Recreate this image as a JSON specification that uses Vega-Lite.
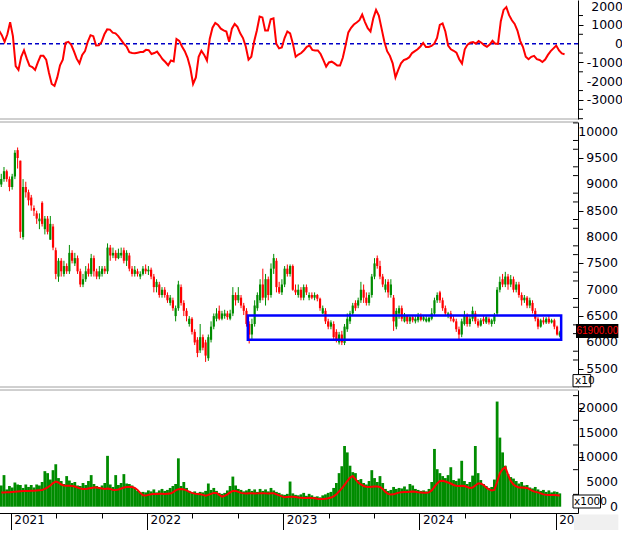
{
"$schema": "https://vega.github.io/schema/vega-lite/v6.json",
"padding": {"left": -8, "top": 0, "right": -1, "bottom": -4},
"background": "white",
"spacing": 3,
"bounds": "flush",
"config": {
  "view": {"stroke": null},
  "axis": {"labelFont": "DejaVu Sans", "labelFontSize": 12.5, "labelColor": "#000010", "domainColor": "#000000", "tickColor": "#000000", "grid": false, "title": null, "labelOverlap": false}
},
"datasets": {
"d": [
{"t":2020.93,"o":9000,"h":9200,"l":8950,"c":9100,"v":4300,"m":2900,"s":450},
{"t":2020.95,"o":9100,"h":9330,"l":9050,"c":9250,"v":6400,"m":2900,"s":700},
{"t":2020.97,"o":9250,"h":9280,"l":9050,"c":9100,"v":3500,"m":2950,"s":450},
{"t":2020.99,"o":9100,"h":9150,"l":8870,"c":8950,"v":4200,"m":2950,"s":100},
{"t":2021.01,"o":8950,"h":9200,"l":8900,"c":9150,"v":3900,"m":3000,"s":500},
{"t":2021.03,"o":9150,"h":9650,"l":9100,"c":9600,"v":4900,"m":3050,"s":1150},
{"t":2021.05,"o":9650,"h":9700,"l":9300,"c":9500,"v":4500,"m":3100,"s":400},
{"t":2021.07,"o":9450,"h":9450,"l":7980,"c":8100,"v":4400,"m":3150,"s":-1200},
{"t":2021.09,"o":8000,"h":9100,"l":7950,"c":8950,"v":3800,"m":3200,"s":-1400},
{"t":2021.11,"o":8950,"h":9050,"l":8750,"c":8850,"v":4500,"m":3200,"s":-700},
{"t":2021.13,"o":8850,"h":8900,"l":8600,"c":8700,"v":4000,"m":3200,"s":-350},
{"t":2021.15,"o":8750,"h":8800,"l":8500,"c":8600,"v":4400,"m":3250,"s":-800},
{"t":2021.17,"o":8550,"h":8600,"l":8400,"c":8500,"v":3900,"m":3250,"s":-1180},
{"t":2021.19,"o":8450,"h":8500,"l":8250,"c":8350,"v":4500,"m":3300,"s":-1250},
{"t":2021.21,"o":8300,"h":8450,"l":8150,"c":8350,"v":4300,"m":3350,"s":-1400},
{"t":2021.23,"o":8650,"h":8680,"l":8200,"c":8250,"v":5000,"m":3400,"s":-1000},
{"t":2021.25,"o":8150,"h":8400,"l":8050,"c":8350,"v":7200,"m":3600,"s":-650},
{"t":2021.27,"o":8350,"h":8400,"l":8050,"c":8100,"v":6800,"m":3900,"s":-650},
{"t":2021.29,"o":7950,"h":8400,"l":7950,"c":8250,"v":5500,"m":4300,"s":-850},
{"t":2021.31,"o":8200,"h":8250,"l":7750,"c":7800,"v":7400,"m":4800,"s":-1550},
{"t":2021.33,"o":7750,"h":7800,"l":7200,"c":7300,"v":8600,"m":5100,"s":-2150},
{"t":2021.35,"o":7250,"h":7600,"l":7150,"c":7550,"v":5800,"m":4900,"s":-2250},
{"t":2021.37,"o":7550,"h":7600,"l":7250,"c":7350,"v":5200,"m":4500,"s":-1800},
{"t":2021.39,"o":7300,"h":7550,"l":7250,"c":7450,"v":4600,"m":4300,"s":-1150},
{"t":2021.41,"o":7450,"h":7500,"l":7300,"c":7350,"v":6200,"m":4250,"s":-850},
{"t":2021.43,"o":7350,"h":7850,"l":7300,"c":7700,"v":5300,"m":4250,"s":50},
{"t":2021.45,"o":7700,"h":7750,"l":7500,"c":7550,"v":4800,"m":4200,"s":100},
{"t":2021.47,"o":7500,"h":7700,"l":7450,"c":7600,"v":5000,"m":4100,"s":-50},
{"t":2021.49,"o":7600,"h":7650,"l":7300,"c":7350,"v":4300,"m":3900,"s":-400},
{"t":2021.51,"o":7350,"h":7400,"l":7050,"c":7100,"v":4200,"m":3700,"s":-800},
{"t":2021.53,"o":7100,"h":7300,"l":7050,"c":7200,"v":4800,"m":3600,"s":-1050},
{"t":2021.55,"o":7200,"h":7450,"l":7150,"c":7350,"v":4400,"m":3600,"s":-600},
{"t":2021.57,"o":7400,"h":7500,"l":7250,"c":7300,"v":5200,"m":3700,"s":-400},
{"t":2021.59,"o":7300,"h":7680,"l":7250,"c":7600,"v":6400,"m":3800,"s":100},
{"t":2021.61,"o":7600,"h":7650,"l":7250,"c":7350,"v":4600,"m":3900,"s":450},
{"t":2021.63,"o":7350,"h":7400,"l":7200,"c":7250,"v":4200,"m":3900,"s":400},
{"t":2021.65,"o":7250,"h":7450,"l":7200,"c":7350,"v":3800,"m":3800,"s":-100},
{"t":2021.67,"o":7300,"h":7450,"l":7250,"c":7400,"v":4300,"m":3700,"s":-90},
{"t":2021.69,"o":7400,"h":7450,"l":7300,"c":7350,"v":4800,"m":3600,"s":100},
{"t":2021.71,"o":7350,"h":7880,"l":7300,"c":7800,"v":10300,"m":3700,"s":500},
{"t":2021.73,"o":7800,"h":7850,"l":7550,"c":7650,"v":4500,"m":3600,"s":760},
{"t":2021.75,"o":7650,"h":7800,"l":7600,"c":7700,"v":4000,"m":3400,"s":750},
{"t":2021.77,"o":7700,"h":7750,"l":7550,"c":7600,"v":6400,"m":3400,"s":590},
{"t":2021.79,"o":7600,"h":7780,"l":7580,"c":7700,"v":4400,"m":3500,"s":550},
{"t":2021.81,"o":7650,"h":7800,"l":7600,"c":7700,"v":4800,"m":3700,"s":400},
{"t":2021.83,"o":7750,"h":7800,"l":7500,"c":7550,"v":6600,"m":3900,"s":200},
{"t":2021.85,"o":7550,"h":7750,"l":7450,"c":7700,"v":4700,"m":4000,"s":0},
{"t":2021.87,"o":7650,"h":7700,"l":7350,"c":7400,"v":4600,"m":4050,"s":-150},
{"t":2021.89,"o":7400,"h":7450,"l":7250,"c":7300,"v":4300,"m":4000,"s":-450},
{"t":2021.91,"o":7300,"h":7450,"l":7250,"c":7380,"v":3800,"m":3800,"s":-500},
{"t":2021.93,"o":7350,"h":7400,"l":7250,"c":7300,"v":3200,"m":3400,"s":-510},
{"t":2021.95,"o":7250,"h":7350,"l":7200,"c":7300,"v":2900,"m":2800,"s":-480},
{"t":2021.97,"o":7300,"h":7450,"l":7270,"c":7400,"v":3000,"m":2300,"s":-450},
{"t":2021.99,"o":7400,"h":7480,"l":7300,"c":7350,"v":2900,"m":2250,"s":-440},
{"t":2022.01,"o":7350,"h":7450,"l":7280,"c":7380,"v":3300,"m":2400,"s":-330},
{"t":2022.03,"o":7380,"h":7420,"l":7200,"c":7250,"v":3100,"m":2500,"s":-350},
{"t":2022.05,"o":7250,"h":7300,"l":6950,"c":7050,"v":3500,"m":2550,"s":-550},
{"t":2022.07,"o":7050,"h":7200,"l":6950,"c":7150,"v":2900,"m":2550,"s":-500},
{"t":2022.09,"o":7100,"h":7150,"l":6850,"c":6900,"v":3300,"m":2600,"s":-420},
{"t":2022.11,"o":6900,"h":7050,"l":6850,"c":7000,"v":3600,"m":2600,"s":-620},
{"t":2022.13,"o":7000,"h":7050,"l":6850,"c":6900,"v":3200,"m":2550,"s":-830},
{"t":2022.15,"o":6900,"h":6950,"l":6750,"c":6800,"v":3400,"m":2600,"s":-980},
{"t":2022.17,"o":6750,"h":6900,"l":6700,"c":6850,"v":3800,"m":2650,"s":-1150},
{"t":2022.19,"o":6800,"h":6850,"l":6600,"c":6650,"v":4200,"m":2900,"s":-900},
{"t":2022.21,"o":6500,"h":6700,"l":6400,"c":6650,"v":4600,"m":3300,"s":-950},
{"t":2022.23,"o":6650,"h":7170,"l":6600,"c":7100,"v":9800,"m":3550,"s":250},
{"t":2022.25,"o":7050,"h":7100,"l":6700,"c":6750,"v":4200,"m":3600,"s":150},
{"t":2022.27,"o":6750,"h":6800,"l":6500,"c":6600,"v":5000,"m":3500,"s":-150},
{"t":2022.29,"o":6600,"h":6650,"l":6400,"c":6500,"v":3800,"m":3300,"s":-400},
{"t":2022.31,"o":6350,"h":6500,"l":6300,"c":6450,"v":3200,"m":3000,"s":-750},
{"t":2022.33,"o":6450,"h":6480,"l":6150,"c":6200,"v":2900,"m":2800,"s":-1300},
{"t":2022.35,"o":6200,"h":6250,"l":5950,"c":6000,"v":3100,"m":2650,"s":-2150},
{"t":2022.37,"o":6050,"h":6100,"l":5720,"c":5800,"v":2800,"m":2550,"s":-1800},
{"t":2022.39,"o":5850,"h":6350,"l":5800,"c":6100,"v":3000,"m":2500,"s":-700},
{"t":2022.41,"o":6100,"h":6150,"l":5850,"c":5900,"v":2900,"m":2400,"s":-380},
{"t":2022.43,"o":6000,"h":6050,"l":5630,"c":5750,"v":3200,"m":2250,"s":-600},
{"t":2022.45,"o":5700,"h":6150,"l":5650,"c":6100,"v":4700,"m":2400,"s":-900},
{"t":2022.47,"o":6050,"h":6400,"l":6000,"c":6300,"v":3400,"m":2600,"s":250},
{"t":2022.49,"o":6300,"h":6550,"l":6250,"c":6500,"v":3800,"m":2800,"s":850},
{"t":2022.51,"o":6450,"h":6650,"l":6400,"c":6550,"v":3200,"m":2800,"s":1100},
{"t":2022.53,"o":6600,"h":6700,"l":6420,"c":6450,"v":2800,"m":2400,"s":1000},
{"t":2022.55,"o":6450,"h":6600,"l":6420,"c":6550,"v":2600,"m":2050,"s":800},
{"t":2022.57,"o":6500,"h":6620,"l":6450,"c":6550,"v":2800,"m":2200,"s":710},
{"t":2022.59,"o":6550,"h":6600,"l":6430,"c":6480,"v":3300,"m":2500,"s":650},
{"t":2022.61,"o":6450,"h":6620,"l":6420,"c":6550,"v":4200,"m":2900,"s":100},
{"t":2022.63,"o":6550,"h":7050,"l":6500,"c":6900,"v":6100,"m":3200,"s":800},
{"t":2022.65,"o":6900,"h":6950,"l":6700,"c":6800,"v":4300,"m":3200,"s":1050},
{"t":2022.67,"o":6800,"h":7050,"l":6750,"c":6900,"v":3600,"m":3000,"s":900},
{"t":2022.69,"o":6850,"h":6900,"l":6650,"c":6700,"v":3400,"m":2800,"s":550},
{"t":2022.71,"o":6700,"h":6750,"l":6520,"c":6600,"v":3100,"m":2700,"s":300},
{"t":2022.73,"o":6600,"h":6650,"l":6300,"c":6350,"v":3300,"m":2650,"s":-150},
{"t":2022.75,"o":6350,"h":6400,"l":5980,"c":6150,"v":3600,"m":2700,"s":-850},
{"t":2022.77,"o":6150,"h":6450,"l":6050,"c":6350,"v":3200,"m":2700,"s":-700},
{"t":2022.79,"o":6350,"h":6800,"l":6300,"c":6700,"v":3500,"m":2650,"s":100},
{"t":2022.81,"o":6650,"h":6950,"l":6600,"c":6900,"v":3000,"m":2700,"s":700},
{"t":2022.83,"o":6800,"h":7200,"l":6750,"c":7100,"v":3600,"m":2750,"s":1450},
{"t":2022.85,"o":7100,"h":7400,"l":6800,"c":6850,"v":3200,"m":2750,"s":1400},
{"t":2022.87,"o":6850,"h":7300,"l":6700,"c":7200,"v":3500,"m":2700,"s":700},
{"t":2022.89,"o":7200,"h":7250,"l":6800,"c":6900,"v":3100,"m":2650,"s":700},
{"t":2022.91,"o":6900,"h":7500,"l":6850,"c":7400,"v":3800,"m":2700,"s":1300},
{"t":2022.93,"o":7400,"h":7680,"l":7300,"c":7600,"v":3300,"m":2700,"s":1350},
{"t":2022.95,"o":7550,"h":7600,"l":6950,"c":7050,"v":3000,"m":2500,"s":0},
{"t":2022.97,"o":7050,"h":7150,"l":6920,"c":6950,"v":2800,"m":2300,"s":-250},
{"t":2022.99,"o":6950,"h":7200,"l":6900,"c":7100,"v":2500,"m":2100,"s":-200},
{"t":2023.01,"o":7100,"h":7450,"l":7050,"c":7400,"v":2400,"m":1900,"s":300},
{"t":2023.03,"o":7400,"h":7480,"l":7250,"c":7300,"v":2600,"m":1950,"s":650},
{"t":2023.05,"o":7300,"h":7480,"l":7250,"c":7450,"v":5100,"m":2000,"s":550},
{"t":2023.07,"o":7450,"h":7480,"l":6980,"c":7000,"v":2700,"m":2000,"s":0},
{"t":2023.09,"o":7000,"h":7100,"l":6900,"c":6950,"v":2400,"m":1950,"s":-700},
{"t":2023.11,"o":6900,"h":7100,"l":6850,"c":7000,"v":2300,"m":1850,"s":-580},
{"t":2023.13,"o":7000,"h":7050,"l":6800,"c":6850,"v":2500,"m":1800,"s":-500},
{"t":2023.15,"o":6850,"h":7100,"l":6800,"c":7050,"v":2800,"m":1750,"s":-350},
{"t":2023.17,"o":7050,"h":7100,"l":6900,"c":6950,"v":2200,"m":1750,"s":-170},
{"t":2023.19,"o":6850,"h":6950,"l":6800,"c":6900,"v":2600,"m":1800,"s":-100},
{"t":2023.21,"o":6900,"h":6950,"l":6820,"c":6850,"v":2300,"m":1750,"s":-330},
{"t":2023.23,"o":6850,"h":6950,"l":6800,"c":6900,"v":2000,"m":1700,"s":-360},
{"t":2023.25,"o":6900,"h":6920,"l":6780,"c":6830,"v":2100,"m":1600,"s":-360},
{"t":2023.27,"o":6830,"h":6850,"l":6600,"c":6650,"v":1900,"m":1550,"s":-550},
{"t":2023.29,"o":6550,"h":6700,"l":6540,"c":6650,"v":2300,"m":1550,"s":-880},
{"t":2023.31,"o":6600,"h":6650,"l":6350,"c":6400,"v":2500,"m":1600,"s":-1220},
{"t":2023.33,"o":6400,"h":6450,"l":6250,"c":6300,"v":2800,"m":1700,"s":-1000},
{"t":2023.35,"o":6300,"h":6420,"l":6250,"c":6380,"v":3000,"m":1850,"s":-960},
{"t":2023.37,"o":6350,"h":6400,"l":6050,"c":6100,"v":3800,"m":2100,"s":-1050},
{"t":2023.39,"o":6200,"h":6250,"l":6000,"c":6050,"v":4800,"m":2500,"s":-1170},
{"t":2023.41,"o":6000,"h":6200,"l":5960,"c":6150,"v":6800,"m":3100,"s":-1170},
{"t":2023.43,"o":6150,"h":6220,"l":5950,"c":6000,"v":8200,"m":3700,"s":-750},
{"t":2023.45,"o":5990,"h":6350,"l":5950,"c":6300,"v":12300,"m":4400,"s":-100},
{"t":2023.47,"o":6250,"h":6550,"l":6200,"c":6450,"v":11000,"m":5200,"s":600},
{"t":2023.49,"o":6400,"h":6600,"l":6350,"c":6550,"v":8300,"m":5900,"s":850},
{"t":2023.51,"o":6550,"h":6750,"l":6500,"c":6700,"v":7000,"m":6200,"s":1020},
{"t":2023.53,"o":6750,"h":6800,"l":6600,"c":6650,"v":6800,"m":5600,"s":1130},
{"t":2023.55,"o":6700,"h":6850,"l":6650,"c":6800,"v":5400,"m":4900,"s":1250},
{"t":2023.57,"o":6800,"h":7150,"l":6750,"c":7000,"v":5600,"m":4500,"s":1550},
{"t":2023.59,"o":7000,"h":7100,"l":6750,"c":6850,"v":4800,"m":4200,"s":1150},
{"t":2023.61,"o":6850,"h":6950,"l":6700,"c":6750,"v":4500,"m":4050,"s":830},
{"t":2023.63,"o":6750,"h":6950,"l":6700,"c":6900,"v":5200,"m":4000,"s":650},
{"t":2023.65,"o":6900,"h":7300,"l":6850,"c":7250,"v":7400,"m":4050,"s":1350},
{"t":2023.67,"o":7250,"h":7600,"l":7200,"c":7500,"v":5800,"m":4100,"s":1800},
{"t":2023.69,"o":7600,"h":7650,"l":7400,"c":7450,"v":5000,"m":4100,"s":1500},
{"t":2023.71,"o":7450,"h":7550,"l":7200,"c":7250,"v":6200,"m":4000,"s":800},
{"t":2023.73,"o":7250,"h":7300,"l":7050,"c":7100,"v":4800,"m":3600,"s":100},
{"t":2023.75,"o":7000,"h":7200,"l":6950,"c":7100,"v":3600,"m":3000,"s":-400},
{"t":2023.77,"o":7150,"h":7200,"l":6850,"c":6950,"v":3200,"m":2600,"s":-650},
{"t":2023.79,"o":6900,"h":7200,"l":6850,"c":7100,"v":3400,"m":2450,"s":-1050},
{"t":2023.81,"o":6850,"h":6900,"l":6220,"c":6400,"v":4000,"m":2500,"s":-1800},
{"t":2023.83,"o":6300,"h":6650,"l":6250,"c":6600,"v":3600,"m":2700,"s":-1400},
{"t":2023.85,"o":6550,"h":6700,"l":6450,"c":6650,"v":3800,"m":2850,"s":-1050},
{"t":2023.87,"o":6650,"h":6700,"l":6400,"c":6450,"v":3700,"m":2950,"s":-880},
{"t":2023.89,"o":6400,"h":6560,"l":6380,"c":6500,"v":4100,"m":3000,"s":-820},
{"t":2023.91,"o":6500,"h":6520,"l":6350,"c":6400,"v":3500,"m":3000,"s":-720},
{"t":2023.93,"o":6400,"h":6520,"l":6350,"c":6480,"v":4600,"m":3050,"s":-500},
{"t":2023.95,"o":6480,"h":6520,"l":6380,"c":6420,"v":4300,"m":3100,"s":-400},
{"t":2023.97,"o":6400,"h":6500,"l":6360,"c":6450,"v":3600,"m":3050,"s":-300},
{"t":2023.99,"o":6420,"h":6560,"l":6380,"c":6500,"v":3400,"m":2950,"s":-150},
{"t":2024.01,"o":6500,"h":6550,"l":6400,"c":6430,"v":3200,"m":2900,"s":40},
{"t":2024.03,"o":6430,"h":6520,"l":6400,"c":6480,"v":3300,"m":2850,"s":-180},
{"t":2024.05,"o":6400,"h":6500,"l":6380,"c":6450,"v":3100,"m":2850,"s":-180},
{"t":2024.07,"o":6400,"h":6490,"l":6380,"c":6470,"v":3600,"m":2900,"s":-120},
{"t":2024.09,"o":6450,"h":6650,"l":6420,"c":6550,"v":5000,"m":3300,"s":0},
{"t":2024.11,"o":6550,"h":6850,"l":6500,"c":6800,"v":11700,"m":4000,"s":300},
{"t":2024.13,"o":6800,"h":6950,"l":6750,"c":6900,"v":7600,"m":4700,"s":1000},
{"t":2024.15,"o":6950,"h":6980,"l":6750,"c":6800,"v":6800,"m":5200,"s":1080},
{"t":2024.17,"o":6800,"h":6850,"l":6600,"c":6650,"v":6200,"m":5250,"s":650},
{"t":2024.19,"o":6650,"h":6700,"l":6500,"c":6550,"v":5800,"m":5100,"s":-100},
{"t":2024.21,"o":6500,"h":6580,"l":6460,"c":6550,"v":6400,"m":4900,"s":-300},
{"t":2024.23,"o":6550,"h":6600,"l":6400,"c":6450,"v":8000,"m":4700,"s":-380},
{"t":2024.25,"o":6450,"h":6500,"l":6380,"c":6400,"v":5400,"m":4400,"s":-480},
{"t":2024.27,"o":6400,"h":6450,"l":6200,"c":6250,"v":5200,"m":4250,"s":-830},
{"t":2024.29,"o":6250,"h":6300,"l":6060,"c":6150,"v":5700,"m":4200,"s":-1060},
{"t":2024.31,"o":6150,"h":6450,"l":6100,"c":6400,"v":9300,"m":4250,"s":-300},
{"t":2024.33,"o":6350,"h":6600,"l":6320,"c":6500,"v":5200,"m":4200,"s":-50},
{"t":2024.35,"o":6500,"h":6550,"l":6300,"c":6350,"v":4600,"m":4000,"s":50},
{"t":2024.37,"o":6350,"h":6500,"l":6300,"c":6450,"v":5000,"m":3800,"s":90},
{"t":2024.39,"o":6450,"h":6680,"l":6400,"c":6600,"v":6300,"m":3900,"s":0},
{"t":2024.41,"o":6550,"h":6600,"l":6350,"c":6400,"v":12300,"m":4300,"s":140},
{"t":2024.43,"o":6400,"h":6450,"l":6280,"c":6320,"v":6800,"m":4700,"s":50},
{"t":2024.45,"o":6320,"h":6460,"l":6300,"c":6420,"v":5400,"m":4700,"s":-80},
{"t":2024.47,"o":6450,"h":6500,"l":6350,"c":6400,"v":4600,"m":4400,"s":-170},
{"t":2024.49,"o":6380,"h":6500,"l":6350,"c":6480,"v":4200,"m":3900,"s":-50},
{"t":2024.51,"o":6450,"h":6480,"l":6340,"c":6380,"v":3800,"m":3500,"s":150},
{"t":2024.53,"o":6350,"h":6450,"l":6300,"c":6420,"v":4000,"m":3300,"s":0},
{"t":2024.55,"o":6400,"h":6560,"l":6350,"c":6500,"v":5500,"m":3400,"s":0},
{"t":2024.57,"o":6550,"h":7050,"l":6500,"c":7000,"v":21300,"m":5000,"s":1200},
{"t":2024.59,"o":7000,"h":7250,"l":6950,"c":7150,"v":14000,"m":6800,"s":1800},
{"t":2024.61,"o":7200,"h":7300,"l":7050,"c":7100,"v":11000,"m":7600,"s":1950},
{"t":2024.63,"o":7100,"h":7340,"l":7050,"c":7250,"v":8300,"m":8000,"s":1520},
{"t":2024.65,"o":7250,"h":7300,"l":7000,"c":7100,"v":6600,"m":6500,"s":1250},
{"t":2024.67,"o":7100,"h":7280,"l":7050,"c":7200,"v":6000,"m":5200,"s":1050},
{"t":2024.69,"o":7200,"h":7250,"l":6950,"c":7000,"v":5700,"m":4500,"s":700},
{"t":2024.71,"o":7000,"h":7150,"l":6950,"c":7100,"v":5200,"m":4100,"s":150},
{"t":2024.73,"o":7100,"h":7150,"l":6850,"c":6900,"v":4700,"m":3900,"s":-180},
{"t":2024.75,"o":6900,"h":6950,"l":6700,"c":6800,"v":5000,"m":3900,"s":-700},
{"t":2024.77,"o":6800,"h":6900,"l":6750,"c":6850,"v":4300,"m":3850,"s":-830},
{"t":2024.79,"o":6850,"h":6880,"l":6650,"c":6700,"v":4400,"m":3800,"s":-700},
{"t":2024.81,"o":6700,"h":6850,"l":6650,"c":6800,"v":3900,"m":3500,"s":-650},
{"t":2024.83,"o":6750,"h":6800,"l":6550,"c":6600,"v":3700,"m":3200,"s":-830},
{"t":2024.85,"o":6600,"h":6650,"l":6400,"c":6450,"v":4000,"m":3000,"s":-870},
{"t":2024.87,"o":6450,"h":6480,"l":6250,"c":6300,"v":3500,"m":2900,"s":-980},
{"t":2024.89,"o":6300,"h":6450,"l":6280,"c":6420,"v":3200,"m":2700,"s":-850},
{"t":2024.91,"o":6420,"h":6480,"l":6340,"c":6380,"v":3400,"m":2500,"s":-600},
{"t":2024.93,"o":6380,"h":6480,"l":6350,"c":6450,"v":3000,"m":2400,"s":-400},
{"t":2024.95,"o":6450,"h":6500,"l":6350,"c":6380,"v":3300,"m":2350,"s":-250},
{"t":2024.97,"o":6380,"h":6450,"l":6360,"c":6420,"v":2900,"m":2350,"s":-100},
{"t":2024.99,"o":6420,"h":6450,"l":6250,"c":6300,"v":3100,"m":2350,"s":-360},
{"t":2025.01,"o":6300,"h":6320,"l":6130,"c":6150,"v":3000,"m":2300,"s":-520},
{"t":2025.03,"o":6130,"h":6220,"l":6100,"c":6190,"v":2700,"m":2250,"s":-560}
],
"box": [{"x1":2022.74,"x2":2025.04,"y1":6050,"y2":6510}],
"minorTop": [{"p":-4000},{"p":-3500},{"p":-2500},{"p":-1500},{"p":-500},{"p":500},{"p":1500}],
"minorMid": [{"p":5166.667},{"p":5333.333},{"p":5666.667},{"p":5833.333},{"p":6166.667},{"p":6333.333},{"p":6666.667},{"p":6833.333},{"p":7166.667},{"p":7333.333},{"p":7666.667},{"p":7833.333},{"p":8166.667},{"p":8333.333},{"p":8666.667},{"p":8833.333},{"p":9166.667},{"p":9333.333},{"p":9666.667},{"p":9833.333},{"p":10166.667}],
"minorBot": [{"p":2500},{"p":7500},{"p":12500},{"p":17500},{"p":22500}],
"labTop": [{"p":-3000},{"p":-2000},{"p":-1000},{"p":0},{"p":1000},{"p":2000}],
"labMid": [{"p":5500},{"p":6000},{"p":6500},{"p":7000},{"p":7500},{"p":8000},{"p":8500},{"p":9000},{"p":9500},{"p":10000}],
"labBot": [{"p":0},{"p":5000},{"p":10000},{"p":15000},{"p":20000}]
},
"vconcat": [
{
  "width": 582, "height": 119,
  "layer": [
    {"data": {"values": [{}]}, "mark": {"type": "rule", "color": "#0000c8", "strokeDash": [4, 3], "strokeWidth": 1.5},
     "encoding": {"y": {"datum": 0, "type": "quantitative"}}},
    {"data": {"values": [{}]}, "mark": {"type": "rule", "color": "#a0a0a0", "strokeWidth": 1},
     "encoding": {"y": {"datum": -4016, "type": "quantitative"}}},
    {"data": {"name": "d"}, "mark": {"type": "line", "color": "#ff0000", "strokeWidth": 2},
     "encoding": {
       "x": {"field": "t", "type": "quantitative", "scale": {"domain": [2020.928, 2025.127], "nice": false, "zero": false}, "axis": null},
       "y": {"field": "s", "type": "quantitative", "scale": {"domain": [-4016, 2328], "nice": false, "zero": false},
             "axis": {"orient": "right", "values": [-3000,-2000,-1000,0,1000,2000], "labels": false, "tickSize": 5}}
     }},
    {"data": {"name": "minorTop"}, "mark": {"type": "rule", "color": "#000000", "strokeWidth": 1, "clip": false},
     "encoding": {
       "x": {"datum": 2025.127, "type": "quantitative"}, "x2": {"datum": 2025.163},
       "y": {"field": "p", "type": "quantitative"}
     }},
    {"data": {"name": "labTop"}, "mark": {"type": "text", "color": "#000010", "align": "right", "baseline": "middle", "font": "DejaVu Sans", "fontSize": 12.5, "clip": false, "dx": 45, "dy": 0.5},
     "encoding": {
       "x": {"datum": 2025.127, "type": "quantitative"},
       "y": {"field": "p", "type": "quantitative"},
       "text": {"field": "p", "type": "nominal"}
     }}
  ]
},
{
  "width": 582, "height": 265,
  "layer": [
    {"data": {"values": [{}]}, "mark": {"type": "rule", "color": "#a0a0a0", "strokeWidth": 1},
     "encoding": {"y": {"datum": 10184, "type": "quantitative"}}},
    {"data": {"values": [{}]}, "mark": {"type": "rule", "color": "#a0a0a0", "strokeWidth": 1},
     "encoding": {"y": {"datum": 5154, "type": "quantitative"}}},
    {"data": {"name": "d"}, "mark": {"type": "rule", "strokeWidth": 1},
     "encoding": {
       "x": {"field": "t", "type": "quantitative", "scale": {"domain": [2020.928, 2025.127], "nice": false, "zero": false}, "axis": null},
       "y": {"field": "l", "type": "quantitative", "scale": {"domain": [5154, 10184], "nice": false, "zero": false},
             "axis": {"orient": "right", "values": [5500,6000,6500,7000,7500,8000,8500,9000,9500,10000], "labels": false, "tickSize": 5}},
       "y2": {"field": "h"},
       "color": {"condition": {"test": "datum.c >= datum.o", "value": "#008c00"}, "value": "#ff0000"}
     }},
    {"data": {"name": "d"}, "mark": {"type": "bar", "size": 2.2},
     "encoding": {
       "x": {"field": "t", "type": "quantitative"},
       "y": {"field": "o", "type": "quantitative"},
       "y2": {"field": "c"},
       "color": {"condition": {"test": "datum.c >= datum.o", "value": "#008c00"}, "value": "#ff0000"}
     }},
    {"data": {"name": "box"}, "mark": {"type": "rect", "fill": null, "stroke": "#0000ff", "strokeWidth": 2.5},
     "encoding": {
       "x": {"field": "x1", "type": "quantitative"}, "x2": {"field": "x2"},
       "y": {"field": "y1", "type": "quantitative"}, "y2": {"field": "y2"}
     }},
    {"data": {"name": "minorMid"}, "mark": {"type": "rule", "color": "#000000", "strokeWidth": 1, "clip": false},
     "encoding": {
       "x": {"datum": 2025.127, "type": "quantitative"}, "x2": {"datum": 2025.163},
       "y": {"field": "p", "type": "quantitative"}
     }},
    {"data": {"name": "labMid"}, "mark": {"type": "text", "color": "#000010", "align": "right", "baseline": "middle", "font": "DejaVu Sans", "fontSize": 12.5, "clip": false, "dx": 45},
     "encoding": {
       "x": {"datum": 2025.127, "type": "quantitative"},
       "y": {"field": "p", "type": "quantitative"},
       "text": {"field": "p", "type": "nominal"}
     }},
    {"data": {"values": [{"label": "61900.00"}]}, "mark": {"type": "rect", "fill": "#000000", "clip": false},
     "encoding": {
       "x": {"datum": 2025.149, "type": "quantitative"}, "x2": {"datum": 2025.46},
       "y": {"datum": 6085, "type": "quantitative"}, "y2": {"datum": 6350}
     }},
    {"data": {"values": [{"label": "61900.00"}]}, "mark": {"type": "text", "color": "#ff0000", "align": "left", "baseline": "middle", "font": "Liberation Sans", "fontSize": 10, "clip": false, "dx": 0.5},
     "encoding": {
       "x": {"datum": 2025.149, "type": "quantitative"},
       "y": {"datum": 6215, "type": "quantitative"},
       "text": {"field": "label"}
     }},
    {"data": {"values": [{"label": "x10"}]}, "mark": {"type": "rect", "fill": "#ffffff", "stroke": "#000000", "strokeWidth": 1, "clip": false},
     "encoding": {
       "x": {"datum": 2025.127, "type": "quantitative"}, "x2": {"datum": 2025.257},
       "y": {"datum": 5158, "type": "quantitative"}, "y2": {"datum": 5390}
     }},
    {"data": {"values": [{"label": "x10"}]}, "mark": {"type": "text", "color": "#000000", "align": "left", "baseline": "middle", "font": "DejaVu Sans", "fontSize": 10.5, "clip": false, "dx": 2},
     "encoding": {
       "x": {"datum": 2025.127, "type": "quantitative"},
       "y": {"datum": 5272, "type": "quantitative"},
       "text": {"field": "label"}
     }}
  ]
},
{
  "width": 582, "height": 123,
  "layer": [
    {"data": {"values": [{}]}, "mark": {"type": "rule", "color": "#a0a0a0", "strokeWidth": 1},
     "encoding": {"y": {"datum": 23640, "type": "quantitative"}}},
    {"data": {"name": "d"}, "mark": {"type": "bar", "size": 2.8, "color": "#008c00"},
     "encoding": {
       "x": {"field": "t", "type": "quantitative", "scale": {"domain": [2020.928, 2025.127], "nice": false, "zero": false},
             "axis": {"orient": "bottom",
                      "values": [2021,2021.0833,2021.1667,2021.25,2021.3333,2021.4167,2021.5,2021.5833,2021.6667,2021.75,2021.8333,2021.9167,2022,2022.0833,2022.1667,2022.25,2022.3333,2022.4167,2022.5,2022.5833,2022.6667,2022.75,2022.8333,2022.9167,2023,2023.0833,2023.1667,2023.25,2023.3333,2023.4167,2023.5,2023.5833,2023.6667,2023.75,2023.8333,2023.9167,2024,2024.0833,2024.1667,2024.25,2024.3333,2024.4167,2024.5,2024.5833,2024.6667,2024.75,2024.8333,2024.9167,2025,2025.0833],
                      "labelExpr": "datum.value % 1 === 0 ? '' + datum.value : ''",
                      "labelOverlap": false, "labelFontSize": 12,
                      "tickSize": {"condition": {"test": "datum.value % 1 === 0", "value": 20}, "value": 5},
                      "labelAlign": "left", "labelBaseline": "top", "labelPadding": -19, "labelOffset": 3,
                      "labelFlush": false, "labelBound": false}},
       "y": {"field": "v", "type": "quantitative", "scale": {"domain": [-1276, 23640], "nice": false, "zero": false},
             "axis": {"orient": "right", "values": [0,5000,10000,15000,20000], "labels": false, "tickSize": 5}},
       "y2": {"datum": 0}
     }},
    {"data": {"name": "d"}, "mark": {"type": "line", "color": "#ff0000", "strokeWidth": 2},
     "encoding": {
       "x": {"field": "t", "type": "quantitative"},
       "y": {"field": "m", "type": "quantitative"}
     }},
    {"data": {"name": "minorBot"}, "mark": {"type": "rule", "color": "#000000", "strokeWidth": 1, "clip": false},
     "encoding": {
       "x": {"datum": 2025.127, "type": "quantitative"}, "x2": {"datum": 2025.163},
       "y": {"field": "p", "type": "quantitative"}
     }},
    {"data": {"name": "labBot"}, "mark": {"type": "text", "color": "#000010", "align": "right", "baseline": "middle", "font": "DejaVu Sans", "fontSize": 12.5, "clip": false, "dx": 45},
     "encoding": {
       "x": {"datum": 2025.127, "type": "quantitative"},
       "y": {"field": "p", "type": "quantitative"},
       "text": {"field": "p", "type": "nominal"}
     }},
    {"data": {"values": [{"label": "x1000"}]}, "mark": {"type": "rect", "fill": "#ffffff", "stroke": "#000000", "strokeWidth": 1, "clip": false},
     "encoding": {
       "x": {"datum": 2025.127, "type": "quantitative"}, "x2": {"datum": 2025.329},
       "y": {"datum": -260, "type": "quantitative"}, "y2": {"datum": 2370}
     }},
    {"data": {"values": [{"label": "x1000"}]}, "mark": {"type": "text", "color": "#000000", "align": "left", "baseline": "middle", "font": "DejaVu Sans", "fontSize": 10.5, "clip": false, "dx": 1},
     "encoding": {
       "x": {"datum": 2025.127, "type": "quantitative"},
       "y": {"datum": 1050, "type": "quantitative"},
       "text": {"field": "label"}
     }},
    {"data": {"values": [{}]}, "mark": {"type": "rect", "fill": "#f0f0f0", "clip": false},
     "encoding": {
       "x": {"datum": 2025.134, "type": "quantitative"}, "x2": {"datum": 2025.46},
       "y": {"datum": -1600, "type": "quantitative"}, "y2": {"datum": -5300}
     }}
  ]
}
]
}
